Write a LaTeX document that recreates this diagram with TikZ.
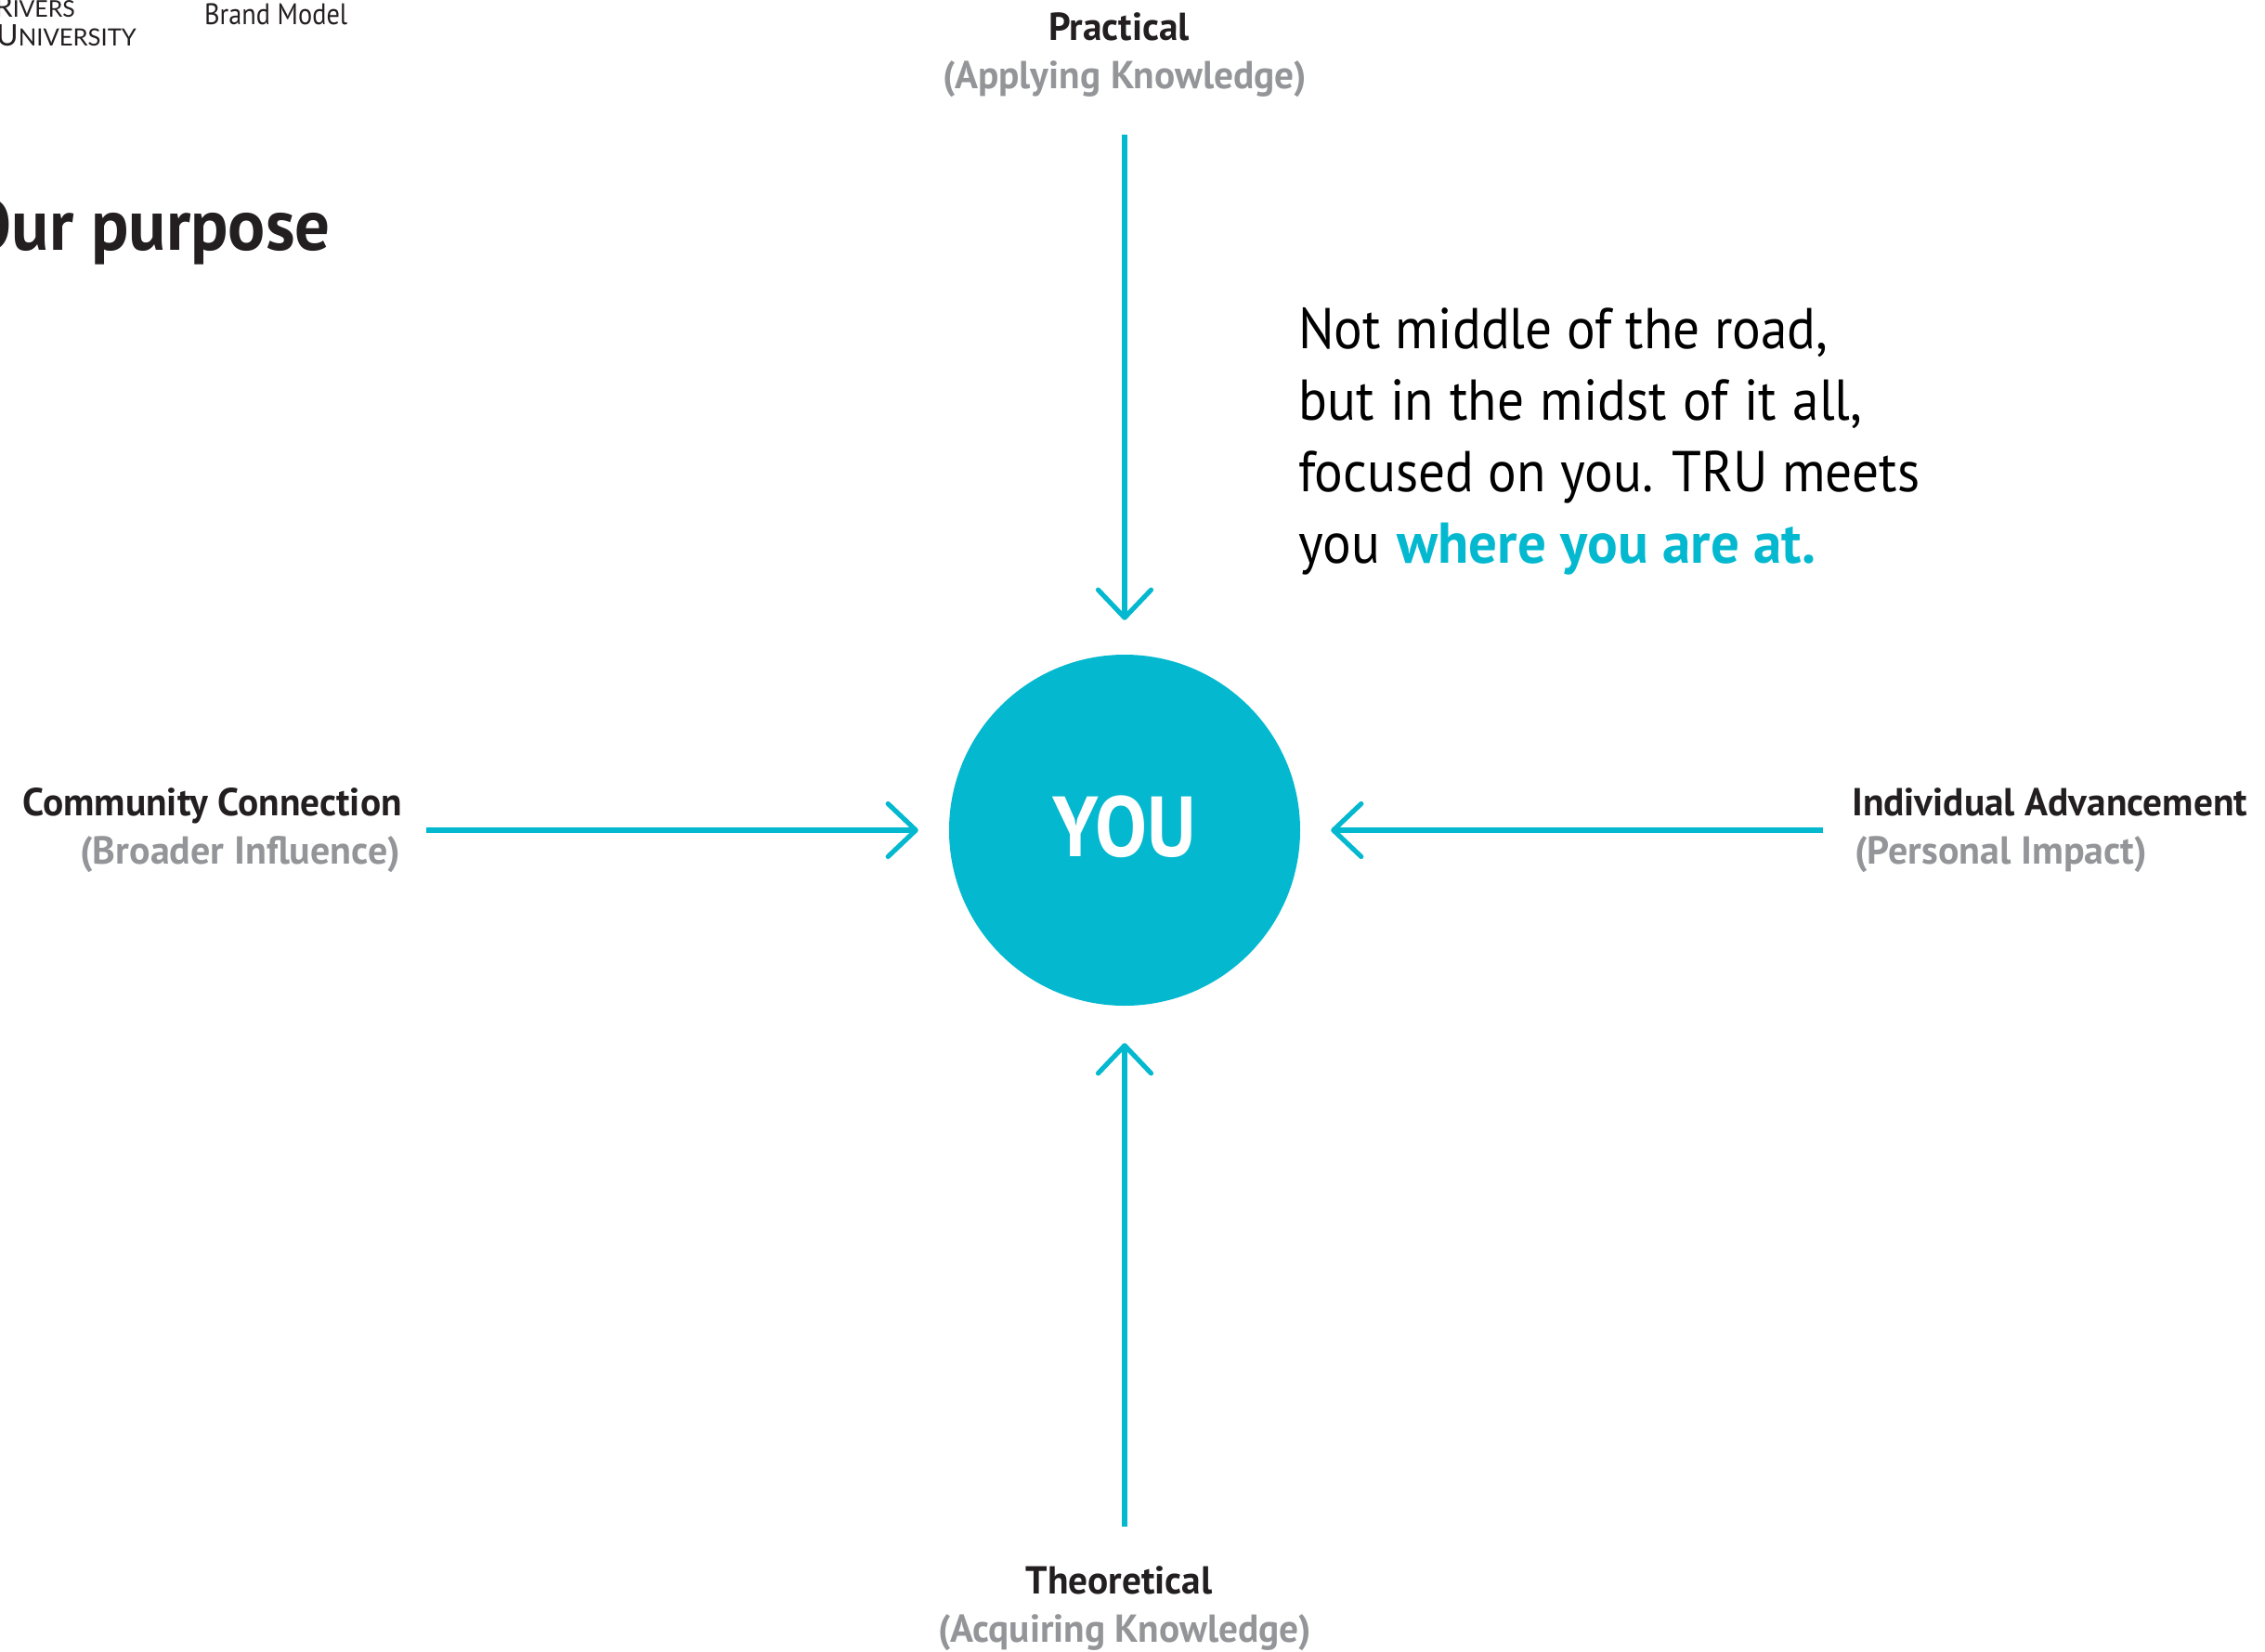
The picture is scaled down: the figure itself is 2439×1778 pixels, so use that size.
\documentclass[tikz,border=0pt]{standalone}
\usepackage{fontspec}
\usetikzlibrary{arrows.meta}
\setmainfont{PT Sans}
\newfontfamily\logofont{Lato}
\newfontfamily\bodyfont[FakeStretch=0.925]{PT Sans}
\newfontfamily\brandfont[FakeStretch=0.885]{PT Sans}
\newfontfamily\labelfont[FakeStretch=0.985]{PT Sans Bold}
\newfontfamily\sublabelfont{PT Sans Bold}
\newfontfamily\titlefont[FakeStretch=0.96]{PT Sans Bold}
\newfontfamily\youfont[FakeStretch=0.91]{PT Sans Bold}
\definecolor{tealx}{HTML}{03B8CF}
\definecolor{inkx}{HTML}{231F20}
\definecolor{grayx}{HTML}{939598}
\newcommand{\fsz}[1]{\fontsize{#1}{#1}\selectfont}
\tikzset{
 x=1pt,y=-1pt,
 conn/.style={draw=tealx,line width=5.2pt,-{Straight Barb[length=30pt,width=57pt,line width=5.2pt,round=false]}},
 head/.style={inner sep=0pt,font=\labelfont\fsz{42},text=inkx},
 sub/.style={inner sep=0pt,font=\labelfont\fsz{42},text=grayx},
 subwide/.style={sub,font=\sublabelfont\fsz{42}},
}
\begin{document}
\begin{tikzpicture}
\useasboundingbox (0,0) rectangle (2439,1778);
\clip (0,0) rectangle (2439,1778);
\node[circle,fill=tealx,minimum size=378pt,inner sep=0pt,text=white,font=\youfont\fsz{92}] (you) at (1211,894) {\raisebox{9pt}{YOU}};
\coordinate (ptop) at (1211,145);
\coordinate (pbot) at (1211,1644);
\coordinate (pleft) at (459,894);
\coordinate (pright) at (1963,894);
\draw[conn,shorten >=37pt] (ptop) -- (you);
\draw[conn,shorten >=40pt] (pbot) -- (you);
\draw[conn,shorten >=33pt] (pleft) -- (you);
\draw[conn,shorten >=33pt] (pright) -- (you);
\node[head,anchor=base] (h1) at (1205,43) {Practical};
\node[sub,anchor=base] (s1) at (1211,95.5) {(Applying Knowledge)};
\node[head,anchor=base] (h2) at (1205,1716) {Theoretical};
\node[sub,anchor=base] (s2) at (1211,1768) {(Acquiring Knowledge)};
\node[head,anchor=base east] (h3) at (433,878) {Community Connection};
\node[subwide,anchor=base east] (s3) at (431,930) {(Broader Influence)};
\node[head,anchor=base west] (h4) at (1994,878) {Individual Advancement};
\node[subwide,anchor=base west] (s4) at (1997,930) {(Personal Impact)};
\node[inner sep=0pt,anchor=base west,align=left,text=black,font=\bodyfont\fontsize{62}{77}\selectfont] (txt) at (1398,606.5)
 {Not middle of the road,\\{\spaceskip=17.5pt\relax but in the midst of it all,}\\focused on you. TRU meets\\you\hspace{3pt} \textcolor{tealx}{\labelfont where you are at.}};
\node[inner sep=0pt,anchor=base east,text=inkx,font=\titlefont\fsz{78}] (title) at (356,269) {Our purpose};
\node[inner sep=0pt,anchor=base west,text=inkx,font=\brandfont\fsz{32}] (brand) at (220,26) {Brand Model};
\node[inner sep=0pt,anchor=base east,text=inkx,font=\logofont\fsz{31}] (l1) at (81,18) {R\scalebox{.8}{IVERS}};
\node[inner sep=0pt,anchor=base east,text=inkx,font=\logofont\fsz{32}] (l2) at (147,49) {U\scalebox{.8}{NIVERSITY}};
\end{tikzpicture}
\end{document}
